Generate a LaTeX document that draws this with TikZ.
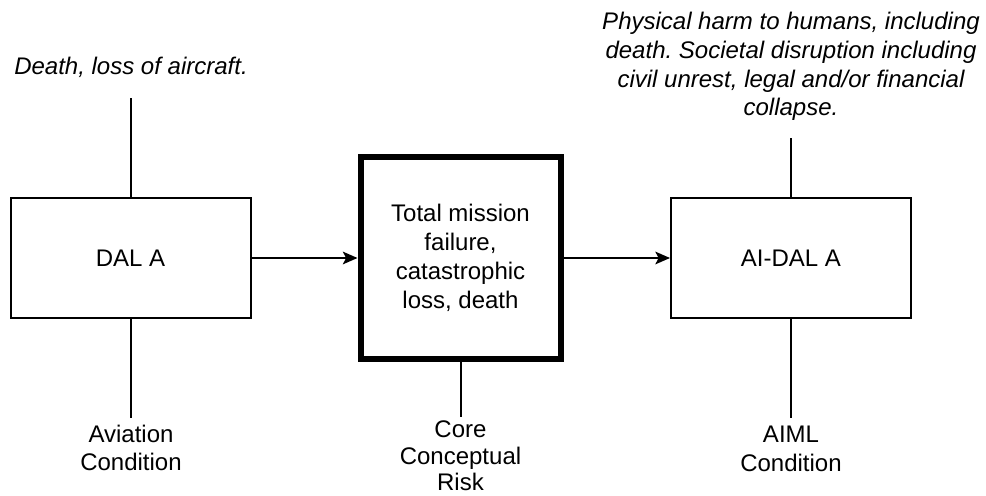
\documentclass[tikz,border=0pt]{standalone}
\usepackage{fontspec}
\setmainfont{Liberation Sans}
\usetikzlibrary{arrows.meta}
\frenchspacing
\begin{document}
\begin{tikzpicture}[x=0.75pt,y=-0.75pt,
  lbl/.style={font=\fontsize{18}{21.6}\selectfont, align=center, text=black, inner sep=0pt},
  note/.style={lbl, font=\fontsize{18}{21.6}\selectfont\itshape},
  box/.style={lbl, draw=black, line width=1.5pt, minimum width=180pt, minimum height=90pt},
  corebox/.style={lbl, draw=black, line width=4.5pt, minimum width=150pt, minimum height=151pt},
  wire/.style={draw=black, line width=1.5pt},
  flow/.style={wire, -{Stealth[length=11pt, width=9.5pt, inset=2.5pt]}}
]
% canvas
\fill[white] (0,0) rectangle (986,496);
\useasboundingbox (0,0) rectangle (986,496);

% main chain
\node[box] (dal) at (130.5,258) {DAL A};
\node[corebox] (core) at (460.5,258) {Total mission\\failure,\\catastrophic\\loss, death};
\node[box] (aidal) at (791,258) {AI-DAL A};

\draw[flow] (dal.east) -- (core.west);
\draw[flow] (core.east) -- (aidal.west);

% consequences above
\node[note] (dalnote) at (131,67) {Death, loss of aircraft.};
\node[note] (ainote) at (791,66.5) {Physical harm to humans, including\\death. Societal disruption including\\civil unrest, legal and/or financial\\collapse.};
\coordinate (dalIn) at (130.5,98);
\coordinate (aiIn) at (791,138);
\draw[wire] (dalIn) -- (dal.north);
\draw[wire] (aiIn) -- (aidal.north);

% conditions below
\node[lbl] (aviation) at (131,448) {Aviation\\Condition};
\node[lbl, font=\fontsize{18}{20}\selectfont] (corelbl) at (460.5,456) {Core\\Conceptual\\Risk};
\node[lbl] (aiml) at (791,449) {AIML\\Condition};
\coordinate (dalOut) at (130.5,418);
\coordinate (coreOut) at (460.5,417);
\coordinate (aiOut) at (791,418);
\draw[wire] (dal.south) -- (dalOut);
\draw[wire] (core.south) -- (coreOut);
\draw[wire] (aidal.south) -- (aiOut);
\end{tikzpicture}
\end{document}
